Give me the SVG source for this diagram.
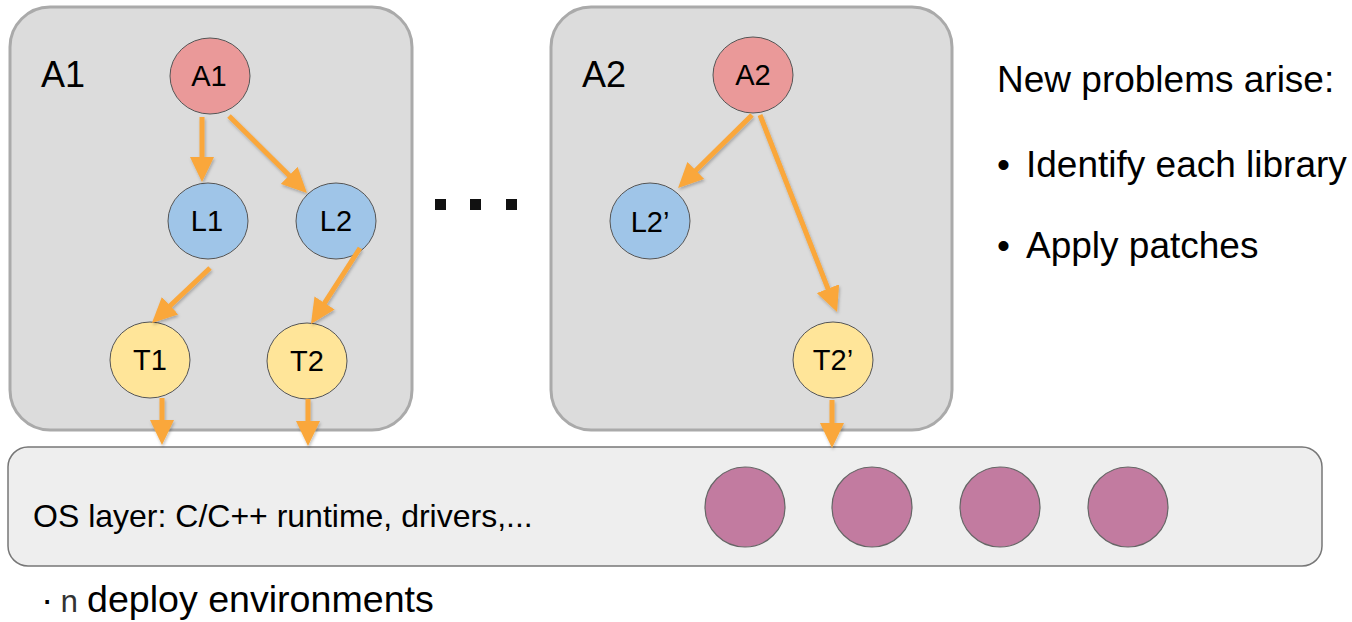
<svg xmlns="http://www.w3.org/2000/svg" width="1352" height="622" viewBox="0 0 1352 622">
  <defs>
    <marker id="head" viewBox="0 0 25 24" refX="4" refY="12" markerWidth="25" markerHeight="24" markerUnits="userSpaceOnUse" orient="auto">
      <path d="M0,0 L25,12 L0,24 z" fill="#FAA73A"/>
    </marker>
    <filter id="shadow" x="-20%" y="-20%" width="140%" height="140%">
      <feDropShadow dx="1" dy="2" stdDeviation="1.5" flood-color="#000" flood-opacity="0.25"/>
    </filter>
  </defs>
  <style>
    text { font-family: "Liberation Sans", Arial, sans-serif; fill: #000; }
    .app { fill: #dcdcdc; stroke: #aaaaaa; stroke-width: 3; }
    .os { fill: #eeeeee; stroke: #777777; stroke-width: 1.5; }
    .node { stroke: #555555; stroke-width: 1; }
    .red { fill: #EA9999; }
    .blue { fill: #9FC5E8; }
    .yellow { fill: #FFE599; }
    .env { fill: #C27BA0; stroke: #666666; stroke-width: 1.2; }
    .lbl { font-size: 29px; text-anchor: middle; }
    .title { font-size: 36px; }
    .note { font-size: 37px; }
    .edge { stroke: #FAA73A; stroke-width: 5; fill: none; marker-end: url(#head); }
    .dot { fill: #111111; }
  </style>

  <!-- application containers -->
  <g id="app-a1">
    <rect class="app" x="10" y="7" width="402" height="423" rx="40"/>
    <text class="title" x="41" y="87">A1</text>
  </g>
  <g id="app-a2">
    <rect class="app" x="551" y="7" width="401" height="423" rx="40"/>
    <text class="title" x="582" y="87">A2</text>
  </g>

  <!-- OS layer -->
  <g id="os-layer">
    <rect class="os" x="8" y="447" width="1314" height="119" rx="20"/>
    <text x="33" y="527" font-size="32">OS layer: C/C++ runtime, drivers,...</text>
    <circle class="env" cx="745" cy="507" r="40"/>
    <circle class="env" cx="872" cy="507" r="40"/>
    <circle class="env" cx="1000" cy="507" r="40"/>
    <circle class="env" cx="1128" cy="507" r="40"/>
  </g>

  <!-- nodes of A1 -->
  <g id="node-a1">
    <ellipse class="node red" cx="210" cy="76" rx="40" ry="38"/>
    <text class="lbl" x="209" y="86">A1</text>
  </g>
  <g id="node-l1">
    <ellipse class="node blue" cx="208" cy="221" rx="40" ry="38"/>
    <text class="lbl" x="207" y="231">L1</text>
  </g>
  <g id="node-l2">
    <ellipse class="node blue" cx="336" cy="221" rx="40" ry="38"/>
    <text class="lbl" x="336" y="231">L2</text>
  </g>
  <g id="node-t1">
    <ellipse class="node yellow" cx="150" cy="360" rx="40" ry="38"/>
    <text class="lbl" x="150" y="370">T1</text>
  </g>
  <g id="node-t2">
    <ellipse class="node yellow" cx="307" cy="361" rx="40" ry="38"/>
    <text class="lbl" x="307" y="371">T2</text>
  </g>

  <!-- nodes of A2 -->
  <g id="node-a2">
    <ellipse class="node red" cx="753" cy="75" rx="40" ry="38"/>
    <text class="lbl" x="753" y="85">A2</text>
  </g>
  <g id="node-l2p">
    <ellipse class="node blue" cx="650" cy="221" rx="40" ry="38"/>
    <text class="lbl" x="650" y="232">L2’</text>
  </g>
  <g id="node-t2p">
    <ellipse class="node yellow" cx="833" cy="360" rx="40" ry="38"/>
    <text class="lbl" x="833" y="370">T2’</text>
  </g>

  <!-- ellipsis between containers -->
  <g id="ellipsis">
    <rect class="dot" x="435" y="199" width="11" height="11"/>
    <rect class="dot" x="470" y="199" width="11" height="11"/>
    <rect class="dot" x="506" y="199" width="11" height="11"/>
  </g>

  <!-- dependency arrows -->
  <g id="connectors" filter="url(#shadow)">
    <line class="edge" x1="202" y1="117" x2="202" y2="161"/>
    <line class="edge" x1="229" y1="116" x2="292" y2="178.2"/>
    <line class="edge" x1="210" y1="268" x2="167.2" y2="308.5"/>
    <line class="edge" x1="360" y1="248" x2="322.4" y2="306.3"/>
    <line class="edge" x1="162" y1="398" x2="162" y2="424"/>
    <line class="edge" x1="308" y1="399" x2="308" y2="425"/>
    <line class="edge" x1="752" y1="115" x2="693" y2="173.3"/>
    <line class="edge" x1="760" y1="115" x2="829.4" y2="292.4"/>
    <line class="edge" x1="832" y1="400" x2="832" y2="427"/>
  </g>

  <!-- side notes -->
  <g id="notes">
    <text class="note" x="997" y="92">New problems arise:</text>
    <text class="note" x="997" y="177">•<tspan x="1026">Identify each library</tspan></text>
    <text class="note" x="997" y="258">•<tspan x="1026">Apply patches</tspan></text>
  </g>

  <!-- footer -->
  <g id="footer">
    <text class="note" x="41" y="612">·<tspan x="60" font-family="'Liberation Mono', monospace" font-size="31" fill="#333">n</tspan><tspan x="87" font-size="37.6">deploy environments</tspan></text>
  </g>
</svg>
